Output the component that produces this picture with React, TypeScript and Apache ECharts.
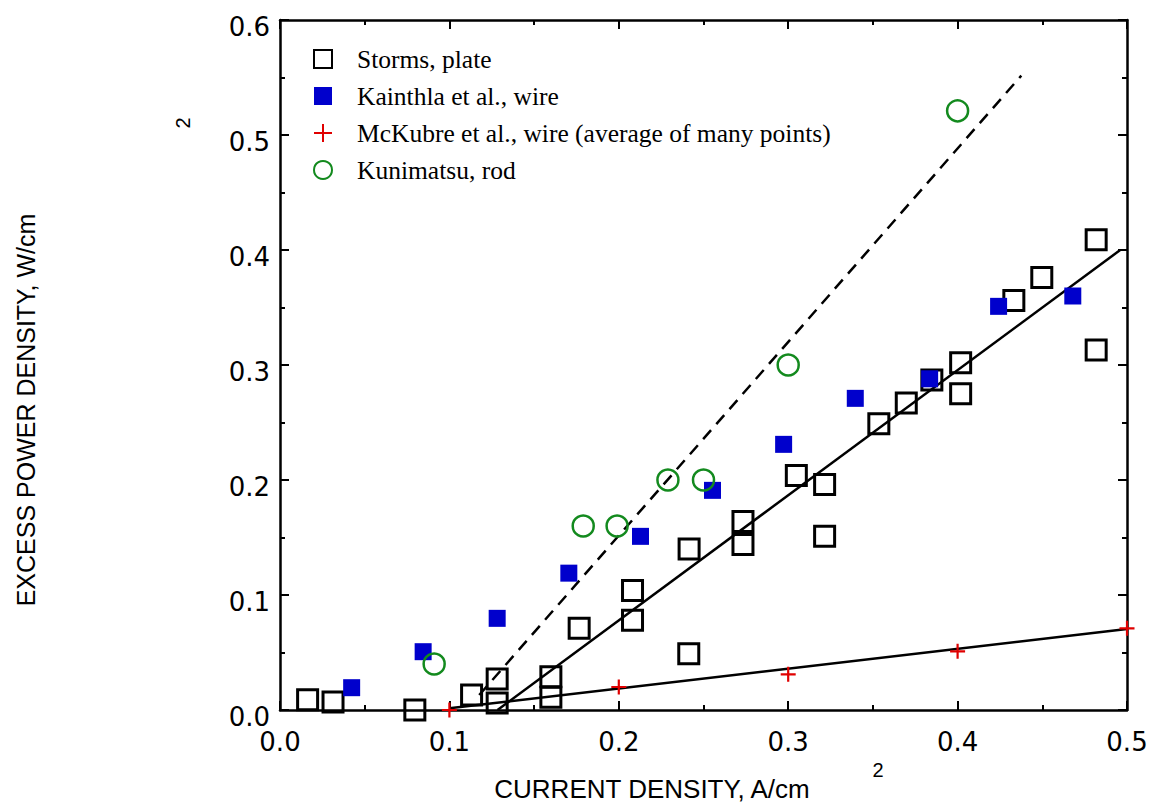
import React, { useEffect, useRef } from "react";
import * as echarts from "echarts";

// Storms, plate (open squares)
const stormsX = [0.0163, 0.0313, 0.0796, 0.1131, 0.1282, 0.1282, 0.1599, 0.1599, 0.1766, 0.2081, 0.2081, 0.2413, 0.2415, 0.2733, 0.2733, 0.3048, 0.3215, 0.3215, 0.3535, 0.3697, 0.3848, 0.4018, 0.4018, 0.4332, 0.4497, 0.4818, 0.4818];
const stormsY = [0.009, 0.007, 0.0, 0.013, 0.027, 0.006, 0.029, 0.011, 0.071, 0.104, 0.078, 0.049, 0.140, 0.164, 0.144, 0.204, 0.196, 0.151, 0.249, 0.267, 0.287, 0.302, 0.275, 0.356, 0.376, 0.409, 0.313];

// Kainthla et al., wire (filled blue squares)
const kainthlaX = [0.0423, 0.0845, 0.1282, 0.1705, 0.2128, 0.2553, 0.2973, 0.3396, 0.3835, 0.4242, 0.468];
const kainthlaY = [0.0194, 0.0507, 0.0797, 0.119, 0.151, 0.191, 0.231, 0.271, 0.288, 0.351, 0.360];

// McKubre et al., wire (red plus)
const mckubreX = [0.1, 0.2, 0.3, 0.4, 0.5];
const mckubreY = [0.0, 0.02, 0.031, 0.051, 0.071];

// Kunimatsu, rod (green open circles)
const kunimatsuX = [0.091, 0.179, 0.199, 0.229, 0.25, 0.3, 0.4];
const kunimatsuY = [0.04, 0.16, 0.16, 0.2, 0.2, 0.3, 0.521];

// Fit lines (endpoints)
const dashedFitX = [0.1176, 0.4376];
const dashedFitY = [0.013, 0.5516];
const stormsFitX = [0.1284, 0.496];
const stormsFitY = [0.0, 0.4];
const mckubreFitX = [0.1, 0.5];
const mckubreFitY = [0.0015, 0.0704];

const seriesNames = [
  "Storms, plate",
  "Kainthla et al., wire",
  "McKubre et al., wire (average of many points)",
  "Kunimatsu, rod",
];

const zip = (xs: number[], ys: number[]) => xs.map((x, i) => [x, ys[i]]);

const tickFont = "DejaVu Sans";
const titleFont = "Liberation Sans";

export default function App() {
  const ref = useRef<HTMLDivElement>(null);

  useEffect(() => {
    if (!ref.current) return;
    const chart = echarts.init(ref.current, undefined, { renderer: "svg" });

    const labelBase = {
      formatter: (v: number) => v.toFixed(1),
      fontSize: 26,
      color: "#000",
      fontFamily: tickFont,
    };

    const axisCommon = (showLabel: boolean) => ({
      type: "value" as const,
      min: 0,
      interval: 0.1,
      axisLine: { show: true, onZero: false, lineStyle: { color: "#000", width: 2.5 } },
      axisTick: { show: true, inside: true, length: 9, lineStyle: { color: "#000", width: 2 } },
      minorTick: { show: true, splitNumber: 2, length: 5, lineStyle: { color: "#000", width: 2 } },
      splitLine: { show: false },
      axisLabel: { show: showLabel, ...labelBase },
    });

    const lineSeries = (x: number[], y: number[], dashed: boolean) => ({
      type: "line",
      data: zip(x, y),
      showSymbol: false,
      symbol: "none",
      silent: true,
      z: 1,
      lineStyle: { color: "#000", width: 2.5, type: dashed ? [12, 8] : "solid" },
    });

    chart.setOption({
      animation: false,
      grid: { left: 280, right: 28, top: 20, bottom: 94, containLabel: false },
      legend: {
        data: seriesNames,
        orient: "vertical",
        left: 308,
        top: 41,
        itemWidth: 18,
        itemHeight: 18,
        itemGap: 11,
        selectedMode: false,
        textStyle: {
          fontFamily: "Liberation Serif",
          fontSize: 25.5,
          color: "#000",
          padding: [0, 0, 0, 20],
        },
      },
      xAxis: [
        { ...axisCommon(true), max: 0.5, position: "bottom", axisLabel: { show: true, ...labelBase, margin: 19 } },
        { ...axisCommon(false), max: 0.5, position: "top" },
      ],
      yAxis: [
        {
          ...axisCommon(true),
          max: 0.6,
          position: "left",
          axisLabel: { show: true, ...labelBase, margin: 10, verticalAlign: "top", lineHeight: 14 },
        },
        { ...axisCommon(false), max: 0.6, position: "right" },
      ],
      graphic: [
        {
          type: "text",
          x: 26,
          y: 410,
          rotation: Math.PI / 2,
          style: {
            text: "EXCESS POWER DENSITY, W/cm",
            font: `25px "${titleFont}"`,
            fill: "#000",
            align: "center",
            verticalAlign: "middle",
          },
        },
        {
          type: "text",
          x: 183,
          y: 123,
          rotation: Math.PI / 2,
          style: {
            text: "2",
            font: `20px "${titleFont}"`,
            fill: "#000",
            align: "center",
            verticalAlign: "middle",
          },
        },
        {
          type: "text",
          x: 652,
          y: 789,
          style: {
            text: "CURRENT DENSITY, A/cm",
            font: `26px "${titleFont}"`,
            fill: "#000",
            align: "center",
            verticalAlign: "middle",
          },
        },
        {
          type: "text",
          x: 878,
          y: 770,
          style: {
            text: "2",
            font: `20px "${titleFont}"`,
            fill: "#000",
            align: "center",
            verticalAlign: "middle",
          },
        },
      ],
      series: [
        lineSeries(dashedFitX, dashedFitY, true),
        lineSeries(stormsFitX, stormsFitY, false),
        lineSeries(mckubreFitX, mckubreFitY, false),
        {
          name: seriesNames[0],
          type: "scatter",
          data: zip(stormsX, stormsY),
          symbol: "rect",
          symbolSize: 20,
          z: 2,
          itemStyle: { color: "rgba(0,0,0,0)", borderColor: "#000", borderWidth: 3, opacity: 1 },
        },
        {
          name: seriesNames[1],
          type: "scatter",
          data: zip(kainthlaX, kainthlaY),
          symbol: "rect",
          symbolSize: 17,
          z: 3,
          itemStyle: { color: "#0000cc", borderWidth: 0, opacity: 1 },
        },
        {
          name: seriesNames[2],
          type: "scatter",
          data: zip(mckubreX, mckubreY),
          symbol: "path://M0,7.5L15,7.5M7.5,0L7.5,15",
          symbolSize: 15,
          z: 4,
          itemStyle: { color: "#e00000", borderColor: "#e00000", borderWidth: 2.2, opacity: 1 },
        },
        {
          name: seriesNames[3],
          type: "scatter",
          data: zip(kunimatsuX, kunimatsuY),
          symbol: "circle",
          symbolSize: 21,
          z: 5,
          itemStyle: { color: "rgba(0,0,0,0)", borderColor: "#138a1e", borderWidth: 2.5, opacity: 1 },
        },
      ],
    });

    return () => chart.dispose();
  }, []);

  return (
    <div
      ref={ref}
      style={{ position: "fixed", left: 0, top: 0, width: 1155, height: 804, background: "#fff" }}
    />
  );
}
